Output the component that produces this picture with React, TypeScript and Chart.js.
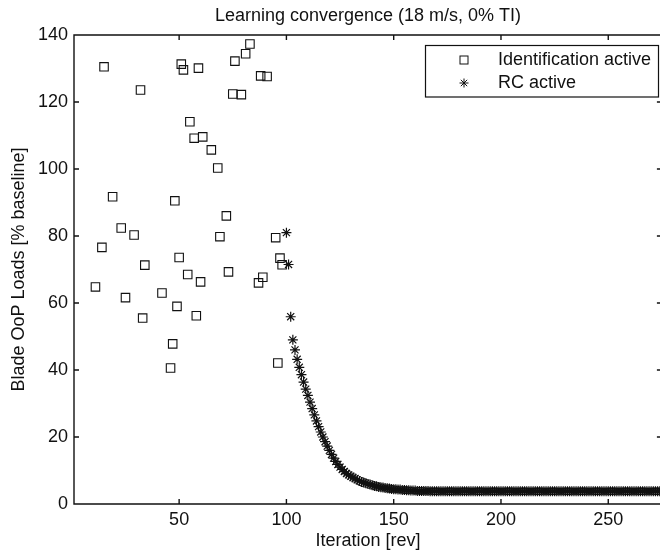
import React, { useEffect, useRef } from 'react';
import { Chart, registerables } from 'chart.js';

Chart.register(...registerables);

const FONT = '"Liberation Sans", Arial, Helvetica, sans-serif';

const chartTitle = 'Learning convergence (18 m/s, 0% TI)';
const xAxisTitle = 'Iteration [rev]';
const yAxisTitle = 'Blade OoP Loads [% baseline]';

const xTickValues = [50, 100, 150, 200, 250];
const yTickValues = [0, 20, 40, 60, 80, 100, 120, 140];
const xMin = 1;
const xMax = 275;
const yMin = 0;
const yMax = 140;

const identLabel = 'Identification active';
const rcLabel = 'RC active';

// Identification phase (squares)
const identIterations = [
  11, 14, 15, 19, 23, 25, 29, 32, 33, 34,
  42, 46, 47, 48, 49, 50, 51, 52, 54, 55,
  57, 58, 59, 60, 61, 65, 68, 69, 72, 73,
  75, 76, 79, 81, 83, 87, 88, 89, 91, 95,
  96, 97, 98,
];
const identLoads = [
  64.8, 76.6, 130.5, 91.7, 82.4, 61.6, 80.3, 123.6, 55.5, 71.3,
  63.0, 40.6, 47.8, 90.5, 59.0, 73.6, 131.3, 129.6, 68.5, 114.1,
  109.2, 56.2, 130.1, 66.3, 109.6, 105.7, 100.3, 79.8, 86.0, 69.3,
  122.4, 132.2, 122.2, 134.4, 137.3, 66.0, 127.8, 67.7, 127.6, 79.5,
  42.1, 73.4, 71.4,
];

// RC phase (asterisks), one value per iteration starting at rcStartIteration
const rcStartIteration = 100;
const rcLoads = [
  81.0, 71.5, 55.9, 49.0, 46.0, 43.2, 40.8, 38.6, 36.4, 34.3,
  32.4, 30.4, 28.5, 26.6, 24.8, 23.1, 21.5, 20.0, 18.6, 17.3,
  16.0, 14.8, 13.7, 12.7, 11.8, 11.0, 10.3, 9.7, 9.1, 8.7,
  8.3, 7.9, 7.6, 7.2, 6.9, 6.6, 6.4, 6.2, 6.0, 5.8,
  5.6, 5.4, 5.3, 5.1, 5.0, 4.9, 4.8, 4.7, 4.6, 4.5,
  4.4, 4.4, 4.3, 4.3, 4.2, 4.2, 4.1, 4.1, 4.0, 4.0,
  4.0, 3.9, 3.9, 3.9, 3.9, 3.9, 3.9, 3.8, 3.8, 3.8,
  3.8, 3.8, 3.8, 3.8, 3.8, 3.8, 3.8, 3.8, 3.8, 3.8,
  3.8, 3.8, 3.8, 3.8, 3.8, 3.8, 3.8, 3.8, 3.8, 3.8,
  3.8, 3.8, 3.8, 3.8, 3.8, 3.8, 3.8, 3.8, 3.8, 3.8,
  3.8, 3.8, 3.8, 3.8, 3.8, 3.8, 3.8, 3.8, 3.8, 3.8,
  3.8, 3.8, 3.8, 3.8, 3.8, 3.8, 3.8, 3.8, 3.8, 3.8,
  3.8, 3.8, 3.8, 3.8, 3.8, 3.8, 3.8, 3.8, 3.8, 3.8,
  3.8, 3.8, 3.8, 3.8, 3.8, 3.8, 3.8, 3.8, 3.8, 3.8,
  3.8, 3.8, 3.8, 3.8, 3.8, 3.8, 3.8, 3.8, 3.8, 3.8,
  3.8, 3.8, 3.8, 3.8, 3.8, 3.8, 3.8, 3.8, 3.8, 3.8,
  3.8, 3.8, 3.8, 3.8, 3.8, 3.8, 3.8, 3.8, 3.8, 3.8,
  3.8, 3.8, 3.8, 3.8, 3.8, 3.8,
];

const INK = '#111111';

const framePlugin = {
  id: 'matlabFrame',
  afterDatasetsDraw(chart: any) {
    const { ctx, chartArea: a, scales } = chart;
    const xs = scales.x;
    const ys = scales.y;
    const tl = 5;
    ctx.save();
    ctx.strokeStyle = INK;
    ctx.lineWidth = 1.4;
    ctx.beginPath();
    ctx.rect(a.left, a.top, a.right - a.left, a.bottom - a.top);
    xs.ticks.forEach((t: any) => {
      const px = xs.getPixelForValue(t.value);
      ctx.moveTo(px, a.bottom);
      ctx.lineTo(px, a.bottom - tl);
      ctx.moveTo(px, a.top);
      ctx.lineTo(px, a.top + tl);
    });
    ys.ticks.forEach((t: any) => {
      const py = ys.getPixelForValue(t.value);
      ctx.moveTo(a.left, py);
      ctx.lineTo(a.left + tl, py);
      ctx.moveTo(a.right, py);
      ctx.lineTo(a.right - tl, py);
    });
    ctx.stroke();
    ctx.restore();
  },
};

const legendPlugin = {
  id: 'matlabLegend',
  afterDraw(chart: any) {
    const { ctx } = chart;
    const box = { x: 425.5, y: 45.5, w: 233, h: 51.5 };
    ctx.save();
    ctx.fillStyle = '#ffffff';
    ctx.fillRect(box.x, box.y, box.w, box.h);
    ctx.strokeStyle = INK;
    ctx.lineWidth = 1.2;
    ctx.strokeRect(box.x, box.y, box.w, box.h);

    const mx = 464;
    const rows = [60, 83];
    const labels = chart.data.datasets.map((d: any) => d.label);

    ctx.strokeStyle = '#111';
    ctx.lineWidth = 1;
    ctx.strokeRect(mx - 4, rows[0] - 4, 8, 8);

    ctx.beginPath();
    const r = 4.5;
    for (let k = 0; k < 4; k++) {
      const ang = (k * Math.PI) / 4;
      ctx.moveTo(mx - Math.cos(ang) * r, rows[1] - Math.sin(ang) * r);
      ctx.lineTo(mx + Math.cos(ang) * r, rows[1] + Math.sin(ang) * r);
    }
    ctx.stroke();

    ctx.fillStyle = '#111';
    ctx.font = `18px ${FONT}`;
    ctx.textBaseline = 'middle';
    ctx.textAlign = 'left';
    ctx.fillText(labels[0], 498, rows[0]);
    ctx.fillText(labels[1], 498, rows[1]);
    ctx.restore();
  },
};

export default function App() {
  const ref = useRef<HTMLCanvasElement | null>(null);

  useEffect(() => {
    if (!ref.current) return;
    const identData = identIterations.map((x, i) => ({ x, y: identLoads[i] }));
    const rcData = rcLoads.map((y, i) => ({ x: rcStartIteration + i, y }));

    const chart = new Chart(ref.current, {
      type: 'scatter',
      data: {
        datasets: [
          {
            label: identLabel,
            data: identData,
            pointStyle: 'rect',
            pointRadius: 6,
            borderColor: '#111',
            backgroundColor: 'rgba(0,0,0,0)',
            borderWidth: 1.1,
          },
          {
            label: rcLabel,
            data: rcData,
            pointStyle: 'star',
            pointRadius: 5,
            borderColor: '#111',
            backgroundColor: '#111',
            borderWidth: 1.2,
          },
        ],
      },
      options: {
        animation: false,
        responsive: false,
        events: [],
        layout: { padding: 0 },
        plugins: {
          legend: { display: false },
          tooltip: { enabled: false },
          title: {
            display: true,
            text: chartTitle,
            fullSize: false,
            color: '#111',
            font: { family: FONT, size: 18, weight: 'normal' },
            padding: { top: 5, bottom: 8.4 },
          },
        },
        scales: {
          x: {
            type: 'linear',
            min: xMin,
            max: xMax,
            grid: { display: false, drawTicks: false },
            border: { display: false },
            afterBuildTicks: (s: any) => {
              s.ticks = xTickValues.map((v) => ({ value: v }));
            },
            afterFit: (s: any) => {
              s.height = 49;
            },
            ticks: {
              color: '#111',
              padding: 5,
              maxRotation: 0,
              font: { family: FONT, size: 18 },
            },
            title: {
              display: true,
              text: xAxisTitle,
              color: '#111',
              font: { family: FONT, size: 18 },
              padding: { top: 0, bottom: 1 },
            },
          },
          y: {
            type: 'linear',
            min: yMin,
            max: yMax,
            grid: { display: false, drawTicks: false },
            border: { display: false },
            afterBuildTicks: (s: any) => {
              s.ticks = yTickValues.map((v) => ({ value: v }));
            },
            afterFit: (s: any) => {
              s.width = 74;
            },
            ticks: {
              color: '#111',
              padding: 6,
              font: { family: FONT, size: 18 },
            },
            title: {
              display: true,
              text: yAxisTitle,
              color: '#111',
              font: { family: FONT, size: 18 },
              padding: { top: 8, bottom: 0 },
            },
          },
        },
      },
      plugins: [framePlugin, legendPlugin],
    });
    return () => chart.destroy();
  }, []);

  return (
    <div
      style={{
        position: 'absolute',
        left: 0,
        top: 0,
        width: 660,
        height: 553,
        overflow: 'hidden',
        background: '#ffffff',
      }}
    >
      <canvas ref={ref} width={669} height={553} style={{ display: 'block' }} />
    </div>
  );
}
